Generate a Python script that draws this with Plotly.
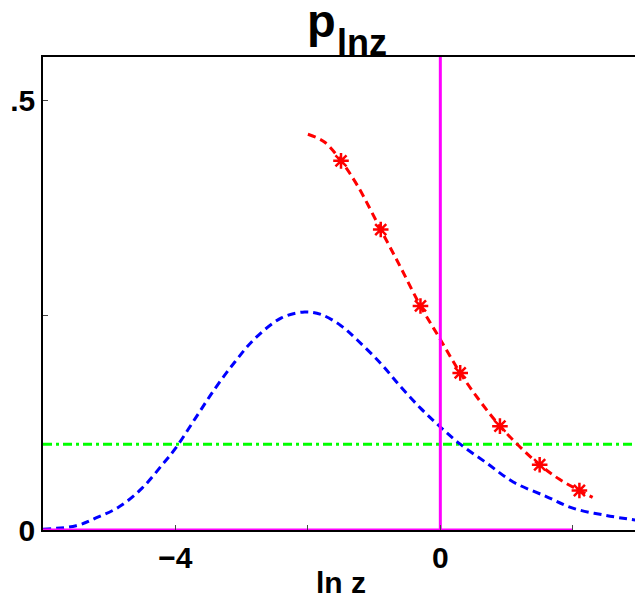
import plotly.graph_objects as go

# blue dashed curve
blue_x = [-6.0, -5.5, -5.2, -4.85, -4.5, -4.2, -4.0, -3.7, -3.4, -3.1, -2.8, -2.4, -2.05,
          -1.8, -1.5, -1.25, -0.9, -0.6, -0.3, 0.0, 0.3, 0.7, 1.1, 1.6, 2.0, 2.5, 3.0]
blue_y = [0.001, 0.005, 0.014, 0.027, 0.049, 0.076, 0.095, 0.130, 0.165, 0.196, 0.223, 0.247, 0.254,
          0.251, 0.238, 0.221, 0.194, 0.167, 0.142, 0.120, 0.100, 0.078, 0.056, 0.039, 0.0255, 0.017, 0.011]

# red dashed curve
red_x = [-2.0, -1.75, -1.5, -1.25, -0.9, -0.6, -0.3, 0.0, 0.3, 0.6, 0.9, 1.2, 1.5, 1.8, 2.1, 2.3]
red_y = [0.461, 0.452, 0.430, 0.401, 0.350, 0.306, 0.261, 0.222, 0.183, 0.150, 0.121, 0.097,
         0.076, 0.059, 0.046, 0.038]

# red star markers
star_x = [-1.5, -0.9, -0.3, 0.3, 0.9, 1.5, 2.1]
star_y = [0.430, 0.350, 0.261, 0.183, 0.121, 0.076, 0.046]

# reference lines
green_x = [-6.0, 3.0]
green_y = [0.1, 0.1]
mag_h_x = [-6.0, 2.0]
mag_h_y = [0.0, 0.0]
mag_v_x = [0.0, 0.0]
mag_v_y = [0.0, 0.551]

x_ticks = [-6, -4, -2, 0, 2]
x_ticklabels = ["", "\u22124", "", "0", ""]
y_ticks = [0, 0.25, 0.5]
y_ticklabels = ["0", "", ".5"]

title_main = "p"
title_sub = "lnz"

FONT = "Liberation Sans"

fig = go.Figure()
fig.add_trace(go.Scatter(x=green_x, y=green_y, mode="lines",
                         line=dict(color="#00ff00", width=3, dash="9px,4px,3px,4px")))
fig.add_trace(go.Scatter(x=blue_x, y=blue_y, mode="lines", line_shape="spline",
                         line=dict(color="#0000ff", width=3, dash="8px,5px")))
fig.add_trace(go.Scatter(x=red_x, y=red_y, mode="lines", line_shape="spline",
                         line=dict(color="#ff0000", width=3, dash="8px,5px")))
fig.add_trace(go.Scatter(x=star_x, y=star_y, mode="markers",
                         marker=dict(symbol="asterisk-open", size=13, color="#ff0000",
                                     line=dict(color="#ff0000", width=2.5))))
fig.add_trace(go.Scatter(x=mag_h_x, y=mag_h_y, mode="lines", cliponaxis=False,
                         line=dict(color="#ff00ff", width=3)))
fig.add_trace(go.Scatter(x=mag_v_x, y=mag_v_y, mode="lines", cliponaxis=False,
                         line=dict(color="#ff00ff", width=3)))

axis_common = dict(showline=True, linecolor="black", linewidth=1.5, mirror=True,
                   ticks="inside", ticklen=5, tickcolor="#444", tickwidth=1,
                   showgrid=False, zeroline=False,
                   tickfont=dict(family=FONT, size=30, color="black", weight="bold"))

fig.update_xaxes(range=[-6, 3], tickmode="array", tickvals=x_ticks, ticktext=x_ticklabels,
                 title=dict(text="ln z", font=dict(family=FONT, size=30, color="black", weight="bold"),
                            standoff=2),
                 **axis_common)
fig.update_yaxes(range=[0, 0.551], tickmode="array", tickvals=y_ticks, ticktext=y_ticklabels,
                 **axis_common)

fig.add_annotation(text=title_main, xref="paper", yref="paper", x=0.44, y=1.0768,
                   xanchor="left", yanchor="middle", showarrow=False,
                   font=dict(family=FONT, size=47, color="black", weight="bold"))
fig.add_annotation(text=title_sub, xref="paper", yref="paper", x=0.4906, y=1.0307,
                   xanchor="left", yanchor="middle", showarrow=False,
                   font=dict(family=FONT, size=36, color="black", weight="bold"))

fig.update_layout(
    width=635, height=591,
    margin=dict(l=32, r=2, t=49, b=67),
    plot_bgcolor="white", paper_bgcolor="white",
    showlegend=False,
)

fig.write_html("out.html")
